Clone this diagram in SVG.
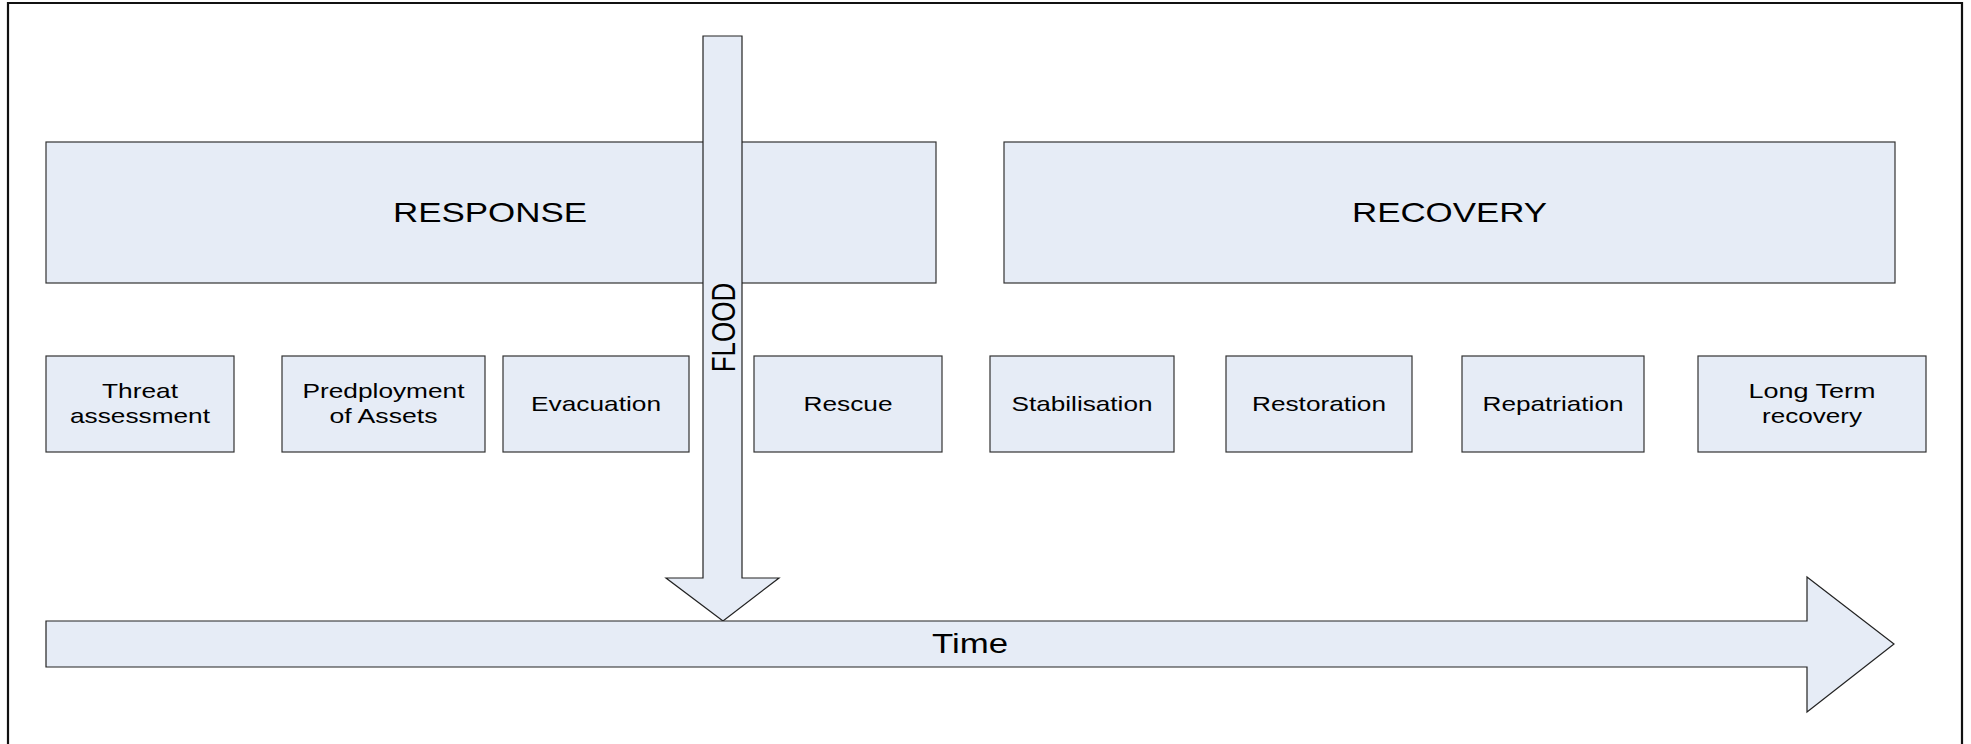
<svg xmlns="http://www.w3.org/2000/svg" width="1971" height="744" viewBox="0 0 1971 744">
<style>
.box{fill:#E6ECF6;stroke:#333333;stroke-width:1.2}
.arrow{fill:#E6ECF6;stroke:#222222;stroke-width:1.2;stroke-linejoin:miter}
.big{font-family:"Liberation Sans",Arial,sans-serif;font-size:28px;fill:#000;text-anchor:middle}
.small{font-family:"Liberation Sans",Arial,sans-serif;font-size:21px;fill:#000;text-anchor:middle}
.mid{font-family:"Liberation Sans",Arial,sans-serif;font-size:27px;fill:#000;text-anchor:middle}
</style>
<rect x="0" y="0" width="1971" height="744" fill="#FFFFFF"/>
<path d="M8,750 V3 H1962 V750" fill="none" stroke="#111111" stroke-width="2.2"/>

<g id="response">
<rect class="box" x="46" y="142" width="890" height="141"/>
<text class="big" x="490" y="222" textLength="194" lengthAdjust="spacingAndGlyphs">RESPONSE</text>
</g>
<g id="recovery">
<rect class="box" x="1004" y="142" width="891" height="141"/>
<text class="big" x="1449.5" y="222" textLength="195" lengthAdjust="spacingAndGlyphs">RECOVERY</text>
</g>

<g id="threat">
<rect class="box" x="46" y="356" width="188" height="96"/>
<text class="small" x="140" y="398" textLength="76" lengthAdjust="spacingAndGlyphs">Threat</text>
<text class="small" x="140" y="423" textLength="140" lengthAdjust="spacingAndGlyphs">assessment</text>
</g>
<g id="predeployment">
<rect class="box" x="282" y="356" width="203" height="96"/>
<text class="small" x="383.5" y="398" textLength="162" lengthAdjust="spacingAndGlyphs">Predployment</text>
<text class="small" x="383.5" y="423" textLength="108" lengthAdjust="spacingAndGlyphs">of Assets</text>
</g>
<g id="evacuation">
<rect class="box" x="503" y="356" width="186" height="96"/>
<text class="small" x="596" y="411" textLength="130" lengthAdjust="spacingAndGlyphs">Evacuation</text>
</g>
<g id="rescue">
<rect class="box" x="754" y="356" width="188" height="96"/>
<text class="small" x="848" y="411" textLength="89" lengthAdjust="spacingAndGlyphs">Rescue</text>
</g>
<g id="stabilisation">
<rect class="box" x="990" y="356" width="184" height="96"/>
<text class="small" x="1082" y="411" textLength="141" lengthAdjust="spacingAndGlyphs">Stabilisation</text>
</g>
<g id="restoration">
<rect class="box" x="1226" y="356" width="186" height="96"/>
<text class="small" x="1319" y="411" textLength="134" lengthAdjust="spacingAndGlyphs">Restoration</text>
</g>
<g id="repatriation">
<rect class="box" x="1462" y="356" width="182" height="96"/>
<text class="small" x="1553" y="411" textLength="141" lengthAdjust="spacingAndGlyphs">Repatriation</text>
</g>
<g id="longterm">
<rect class="box" x="1698" y="356" width="228" height="96"/>
<text class="small" x="1812" y="398" textLength="127" lengthAdjust="spacingAndGlyphs">Long Term</text>
<text class="small" x="1812" y="423" textLength="100" lengthAdjust="spacingAndGlyphs">recovery</text>
</g>

<g id="connectors">
<g id="flood">
<polygon class="arrow" points="703,36 742,36 742,578 779,578 723,621 666,578 703,578"/>
<text class="mid" style="font-size:26px" transform="translate(723,327.5) scale(1.3,1) rotate(-90)" x="0" y="9.3">FLOOD</text>
</g>
<g id="time">
<polygon class="arrow" points="46,621 1807,621 1807,577 1894,644 1807,712 1807,667 46,667"/>
<text class="mid" x="970" y="653" textLength="76" lengthAdjust="spacingAndGlyphs">Time</text>
</g>
</g>
</svg>
